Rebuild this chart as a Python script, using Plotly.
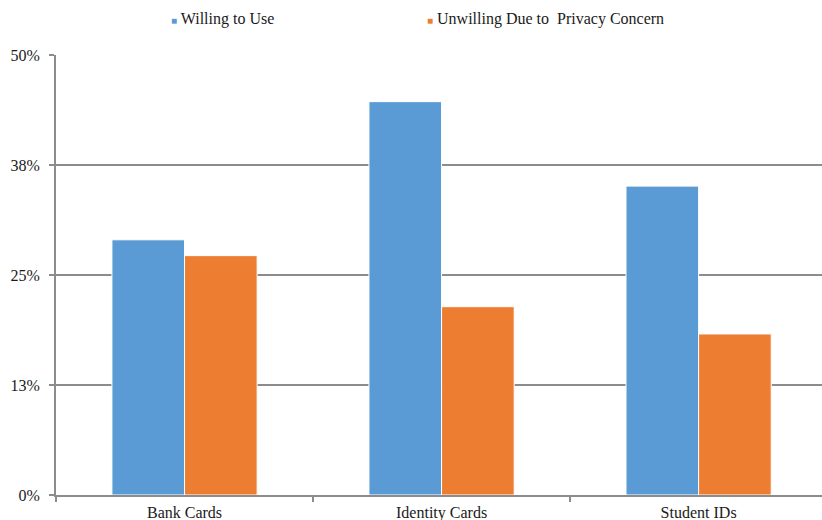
import plotly.graph_objects as go

categories = ["Bank Cards", "Identity Cards", "Student IDs"]
willing = [29.0, 44.7, 35.1]
unwilling = [27.2, 21.4, 18.3]
tick_vals = [0, 12.5, 25, 37.5, 50]
tick_text = ["0%", "13%", "25%", "38%", "50%"]
series_names = ["Willing to Use", "Unwilling Due to  Privacy Concern"]

blue = "#5B9BD5"
orange = "#ED7D31"
grid = "#8C8C8C"
font = "Liberation Serif, Times New Roman, serif"
txt = "#1a1a1a"

fig = go.Figure()
fig.add_trace(go.Bar(x=categories, y=willing, name=series_names[0],
                     marker=dict(color=blue, line=dict(color="white", width=1))))
fig.add_trace(go.Bar(x=categories, y=unwilling, name=series_names[1],
                     marker=dict(color=orange, line=dict(color="white", width=1))))

# legend drawn as text (tight marker-to-text spacing as in the reference)
legend_x = [169, 425]
for name, col, px in zip(series_names, [blue, orange], legend_x):
    fig.add_annotation(
        xref="paper", yref="paper",
        x=(px - 56) / 766, y=1 + (55 - 19) / 440,
        xanchor="left", yanchor="middle", showarrow=False,
        text=f"<span style='color:{col};font-size:10px'>■</span> {name}",
        font=dict(family=font, size=16, color=txt),
    )

fig.update_layout(
    width=822, height=520,
    margin=dict(l=56, r=0, t=55, b=25),
    paper_bgcolor="white", plot_bgcolor="white",
    barmode="group", bargap=0.435, bargroupgap=0,
    font=dict(family=font, size=16, color=txt),
    showlegend=False,
)
fig.update_xaxes(range=[-0.5, 2.48], showline=True, linecolor=grid, linewidth=2,
                 ticks="outside", tickson="boundaries", ticklen=5, tickcolor=grid, tickwidth=2,
                 showgrid=False, ticklabelstandoff=2, automargin=False,
                 tickfont=dict(family=font, size=16, color=txt))
fig.update_yaxes(range=[0, 50], tickvals=tick_vals, ticktext=tick_text,
                 showline=True, linecolor=grid, linewidth=2,
                 ticks="outside", ticklen=5, tickcolor=grid, tickwidth=2,
                 showgrid=True, gridcolor=grid, gridwidth=2, zeroline=False,
                 ticklabelstandoff=6, automargin=False,
                 tickfont=dict(family=font, size=16, color=txt))

fig.write_html("out.html")
